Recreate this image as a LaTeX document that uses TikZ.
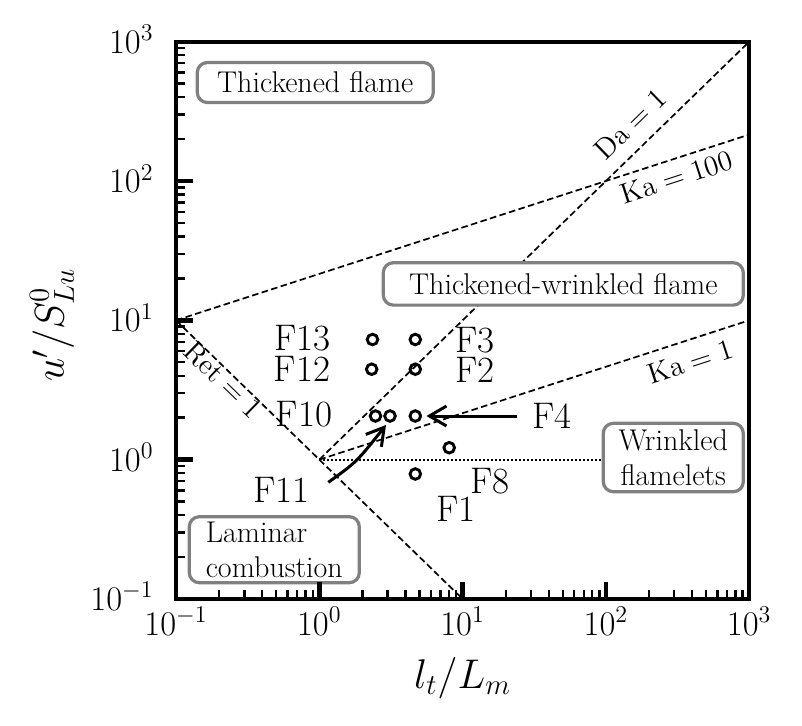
\documentclass[tikz,border=0pt]{standalone}
\usetikzlibrary{arrows.meta}
\begin{document}
\begin{tikzpicture}[x=0.5pt,y=-0.5pt,
  gline/.style={line width=0.85pt, dash pattern=on 3.3pt off 1.7pt},
  dotline/.style={line width=0.9pt, dash pattern=on 0.8pt off 1.2pt},
  regbox/.style={draw=gray, line width=1.6pt, rounded corners=5pt, fill=white, inner sep=0pt, font=\fontsize{15}{17.5}\selectfont},
  flabel/.style={inner sep=0pt, font=\fontsize{18.5}{20}\selectfont},
  datapt/.style={circle, draw, line width=1.45pt, minimum size=5.3pt, inner sep=0pt},
  rlabel/.style={inner sep=0pt, font=\fontsize{15}{17}\selectfont},
  tlabel/.style={inner sep=0pt, font=\fontsize{18}{20}\selectfont},
  alabel/.style={inner sep=0pt, font=\fontsize{20}{22}\selectfont},
  majortick/.style={line width=2.2pt},
  minortick/.style={line width=1.2pt},
  arr/.style={line width=1.5pt, -{Straight Barb[length=8.5pt,width=10pt]}},
]
\useasboundingbox (0,0) rectangle (802,725);
% regime lines
\begin{scope}
\clip (176,41.7) rectangle (749.2,598.9);
\coordinate (pA) at (176,320.3);
\coordinate (pB) at (462.6,598.9);
\coordinate (pO) at (319.3,459.6);
\coordinate (pD) at (749.2,41.7);
\coordinate (pK) at (749.2,134.57);
\coordinate (pL) at (749.2,320.3);
\coordinate (pW) at (749.2,459.6);
\draw[gline] (pA) -- (pB);
\draw[gline] (pO) -- (pD);
\draw[gline] (pA) -- (pK);
\draw[gline] (pO) -- (pL);
\draw[dotline] (pO) -- (pW);
\end{scope}
% line labels
\node[rlabel, rotate=44.2] (lDa) at (630,124) {$\mathrm{Da}=1$};
\node[rlabel, rotate=17.96] (lKa100) at (676,177) {$\mathrm{Ka}=100$};
\node[rlabel, rotate=17.96] (lKa1) at (690,361.7) {$\mathrm{Ka}=1$};
\node[rlabel, rotate=-44.2] (lRe) at (223,380) {$\mathrm{Ret}=1$};
% regime boxes
\node[regbox, minimum width=118pt, minimum height=20pt] (bTF) at (315.3,82.5) {Thickened flame};
\node[regbox, minimum width=180pt, minimum height=21.2pt] (bTW) at (563.3,283.9) {Thickened-wrinkled flame};
\node[regbox, minimum width=70pt, minimum height=34.2pt, align=center] (bWF) at (673.3,457.5) {Wrinkled\\flamelets};
\node[regbox, minimum width=85pt, minimum height=33pt, align=left] (bLC) at (274.3,549.7) {Laminar\\combustion};
% data points
\node[datapt] (c13) at (372.5,339.5) {};
\node[datapt] (c3) at (415.3,339.5) {};
\node[datapt] (c12) at (371.7,369.2) {};
\node[datapt] (c2) at (415.3,369.2) {};
\node[datapt] (c10) at (375.5,416) {};
\node[datapt] (c11) at (390,416) {};
\node[datapt] (c4) at (415.3,416) {};
\node[datapt] (c8) at (449.2,447.7) {};
\node[datapt] (c1) at (415.3,474) {};
% point labels
\node[flabel] (F13) at (302.5,338) {F13};
\node[flabel] (F12) at (302,368.7) {F12};
\node[flabel] (F10) at (304,414.5) {F10};
\node[flabel] (F3) at (475,340.3) {F3};
\node[flabel] (F2) at (475,370.2) {F2};
\node[flabel] (F4) at (551.7,416) {F4};
\node[flabel] (F8) at (489.7,481) {F8};
\node[flabel] (F1) at (455.8,508.7) {F1};
\node[flabel] (F11) at (281.7,490) {F11};
% arrows
\coordinate (a11s) at (328.3,482.3);
\coordinate (a11e) at (386,425);
\coordinate (a4s) at (516.7,416);
\coordinate (a4e) at (426.5,416);
\draw[arr] (a4s) -- (a4e);
\draw[arr] (a11s) .. controls (356.5,462.1) .. (a11e);
% axes
\draw[line width=2.2pt] (176,41.7) rectangle (749.2,598.9);
\foreach \d in {0,1,2,3} {
  \pgfmathsetmacro\yy{598.9-\d*139.3}
  \pgfmathsetmacro\xx{176+\d*143.3}
  \draw[majortick] (176,\yy) -- ++(16.5,0);
  \draw[majortick] (\xx,598.9) -- ++(0,-16.5);
  \foreach \k in {2,...,9} {
    \pgfmathsetmacro\ym{598.9-(\d+log10(\k))*139.3}
    \pgfmathsetmacro\xm{176+(\d+log10(\k))*143.3}
    \draw[minortick] (176,\ym) -- ++(9,0);
    \draw[minortick] (\xm,598.9) -- ++(0,-9);
  }
}
% tick labels
\node[tlabel, anchor=base east] (y3) at (154,53.3) {$10^{3}$};
\node[tlabel, anchor=base east] (y2) at (154,192.6) {$10^{2}$};
\node[tlabel, anchor=base east] (y1) at (154,331.9) {$10^{1}$};
\node[tlabel, anchor=base east] (y0) at (154,471.2) {$10^{0}$};
\node[tlabel, anchor=base east] (ym) at (154,610.5) {$10^{-1}$};
\node[tlabel, anchor=base] (xm) at (176,635) {$10^{-1}$};
\node[tlabel, anchor=base] (x0) at (319.3,635) {$10^{0}$};
\node[tlabel, anchor=base] (x1) at (462.6,635) {$10^{1}$};
\node[tlabel, anchor=base] (x2) at (605.9,635) {$10^{2}$};
\node[tlabel, anchor=base] (x3) at (749.2,635) {$10^{3}$};
% axis labels
\node[alabel, anchor=base] (xlab) at (462.6,688) {$l_t/L_m$};
\node[alabel, rotate=90] (ylab) at (52,325) {$u'/S^0_{Lu}$};
\end{tikzpicture}
\end{document}
